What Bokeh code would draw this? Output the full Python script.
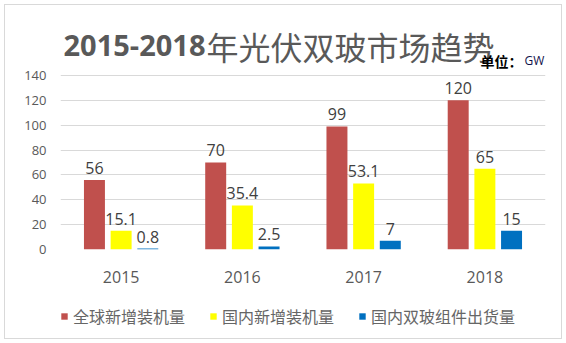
from bokeh.plotting import figure
from bokeh.layouts import column
from bokeh.models import (FactorRange, Range1d, Label, Legend, LegendItem,
                          ColumnDataSource, FixedTicker)
from bokeh.transform import dodge
from bokeh.core.properties import value
from bokeh.embed import file_html
from bokeh.resources import INLINE

years = ["2015", "2016", "2017", "2018"]
global_new = [56, 70, 99, 120]
domestic_new = [15.1, 35.4, 53.1, 65]
bifacial_ship = [0.8, 2.5, 7, 15]
series_names = ["全球新增装机量", "国内新增装机量", "国内双玻组件出货量"]
y_ticks = [0, 20, 40, 60, 80, 100, 120, 140]
title_num = "2015-2018"
title_cn = "年光伏双玻市场趋势"
unit_cn = "单位："
unit_en = "GW"

def fmt(v):
    return ("%g" % v)

src = ColumnDataSource(dict(
    years=years,
    g=global_new, d=domestic_new, b=bifacial_ship,
    gl=[fmt(v) for v in global_new],
    dl=[fmt(v) for v in domestic_new],
    bl=[fmt(v) for v in bifacial_ship],
))

W = 566
H_MAIN, H_LEG = 300, 43
colors = ["#C0504D", "#FFFF00", "#0070C0"]
fields = ["g", "d", "b"]
lfields = ["gl", "dl", "bl"]
offs = [-0.22, 0.0, 0.22]

# main chart: frame from the chart top (headroom above 140 holds the title) down to 0
p = figure(width=W, height=H_MAIN, x_range=FactorRange(*years), y_range=Range1d(0, 196.3),
           output_backend="svg", toolbar_location=None,
           min_border_left=60, min_border_right=21, min_border_top=5, min_border_bottom=51)
p.outline_line_color = None
p.background_fill_color = None
p.border_fill_color = None

for f, lf, o, c in zip(fields, lfields, offs, colors):
    p.vbar(x=dodge("years", o, range=p.x_range), top=f, width=0.173, source=src,
           fill_color=c, line_color=None)
    p.text(x=dodge("years", o, range=p.x_range), y=f, text=lf, source=src,
           text_align="center", text_baseline="bottom", y_offset=-6,
           text_font=value("Open Sans"), text_font_size="16px", text_color="#404040")

# axes
p.yaxis.ticker = FixedTicker(ticks=y_ticks)
p.yaxis.axis_line_color = None
p.yaxis.major_tick_line_color = None
p.yaxis.minor_tick_line_color = None
p.yaxis.major_tick_out = 0
p.yaxis.major_tick_in = 0
p.yaxis.major_label_standoff = 14
p.yaxis.major_label_text_font = "Open Sans"
p.yaxis.major_label_text_font_size = "13px"
p.yaxis.major_label_text_color = "#595959"

p.xaxis.axis_line_color = None
p.xaxis.major_tick_line_color = None
p.xaxis.major_tick_out = 0
p.xaxis.major_tick_in = 0
p.xaxis.major_label_standoff = 21
p.xaxis.major_label_text_font = "Open Sans"
p.xaxis.major_label_text_font_size = "16px"
p.xaxis.major_label_text_color = "#595959"

p.xgrid.grid_line_color = None
p.ygrid.grid_line_color = "#D9D9D9"
p.ygrid.grid_line_width = 1

# title and unit note (inside the frame's headroom, data units)
p.add_layout(Label(x=1.196, y=164, text=title_num,
                   text_align="right", text_baseline="alphabetic",
                   text_font="Open Sans", text_font_style="bold", text_font_size="29px",
                   text_color="#595959"))
p.add_layout(Label(x=1.204, y=164, text=title_cn,
                   text_align="left", text_baseline="alphabetic",
                   text_font="Noto Sans CJK SC", text_font_size="32px",
                   text_color="#595959"))
p.add_layout(Label(x=3.464, y=152, text=unit_cn,
                   text_align="left", text_baseline="alphabetic",
                   text_font="Noto Sans CJK SC", text_font_style="bold", text_font_size="14px",
                   text_color="#000000"))
p.add_layout(Label(x=3.827, y=152, text=unit_en,
                   text_align="left", text_baseline="alphabetic",
                   text_font="Open Sans", text_font_size="12px",
                   text_color="#10104a"))

# legend strip below the chart; its zero-width bars lie outside its y range, only the legend shows
q = figure(width=W, height=H_LEG, x_range=p.x_range, y_range=Range1d(1000, 1001),
           output_backend="svg", toolbar_location=None,
           x_axis_type=None, y_axis_type=None,
           min_border_left=60, min_border_right=21, min_border_top=0, min_border_bottom=0)
q.outline_line_color = None
q.background_fill_color = None
q.border_fill_color = None
q.xgrid.grid_line_color = None
q.ygrid.grid_line_color = None
leg_renderers = [q.vbar(x=dodge("years", o, range=q.x_range), top=f, width=0, source=src,
                        fill_color=c, line_color=None)
                 for f, o, c in zip(fields, offs, colors)]
legend = Legend(items=[LegendItem(label=n, renderers=[r]) for n, r in zip(series_names, leg_renderers)],
                orientation="horizontal", location=(0, 15),
                glyph_width=8, glyph_height=8, label_standoff=5, spacing=24,
                padding=0, margin=0, border_line_color=None, background_fill_alpha=0,
                label_text_font="Noto Sans CJK SC", label_text_font_size="16px",
                label_text_color="#666666", label_height=20)
q.add_layout(legend, "center")

layout = column(p, q, spacing=0,
                styles={"outline": "1px solid #D9D9D9", "outline-offset": "-5px",
                        "background-color": "white"})

open("out.html", "w").write(file_html(layout, INLINE))
